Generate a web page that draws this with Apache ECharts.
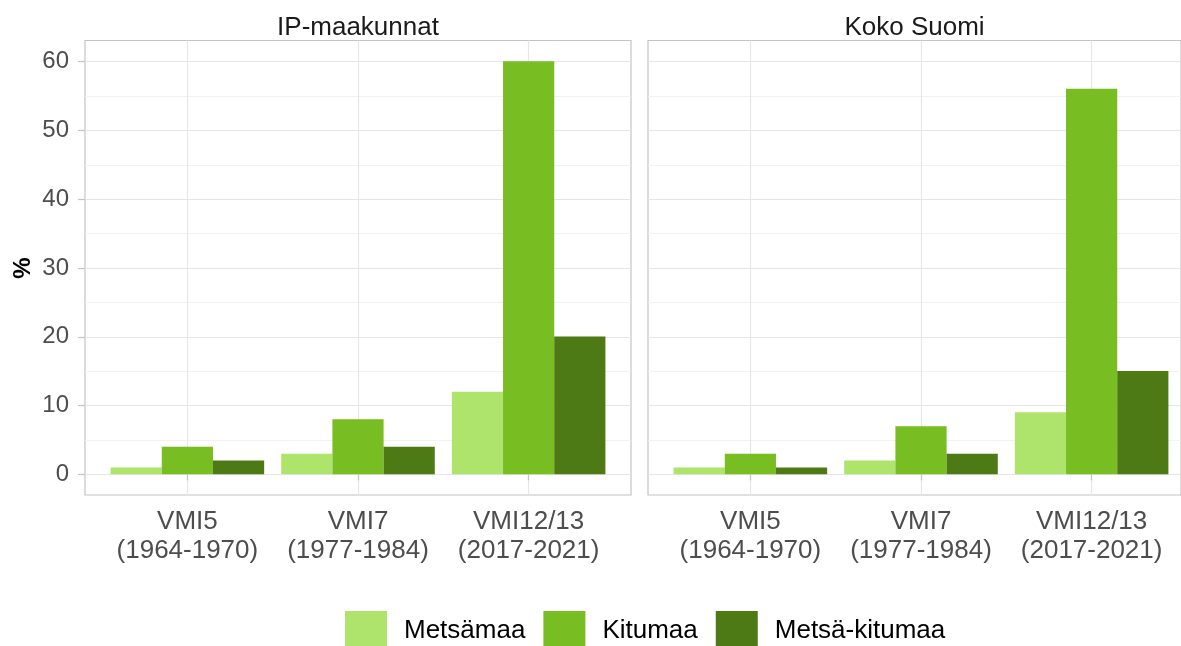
<!DOCTYPE html>
<html>
<head>
<meta charset="utf-8">
<script src="https://cdn.jsdelivr.net/npm/echarts@6/dist/echarts.min.js"></script>
<style>
  html, body { margin: 0; padding: 0; background: #fff; }
  #chartmain { width: 1181px; height: 646px; }
</style>
</head>
<body>
<div id="chartmain"></div>
<script>
// data
var categories = ['VMI5\n(1964-1970)', 'VMI7\n(1977-1984)', 'VMI12/13\n(2017-2021)'];
var panelNames = ['IP-maakunnat', 'Koko Suomi'];
var seriesNames = ['Metsämaa', 'Kitumaa', 'Metsä-kitumaa'];
var seriesColors = ['#aee46c', '#78bd21', '#4d7a15'];
var ipMetsamaa = [1, 3, 12];
var ipKitumaa = [4, 8, 60];
var ipMetsaKitumaa = [2, 4, 20];
var kokoMetsamaa = [1, 2, 9];
var kokoKitumaa = [3, 7, 56];
var kokoMetsaKitumaa = [1, 3, 15];
var yMin = 0, yMax = 60, yStep = 10;

var font = 'Liberation Sans, Arial, sans-serif';
var borderCol = '#c4c4c4';
var gridCol = '#e6e6e6';
var minorCol = '#f2f2f2';

// panel boxes (px) - right one runs off the canvas like the reference
var panels = [
  {left: 85, right: 550},
  {left: 648, right: -13}
];
var panelTop = 40.5, panelBottom = 151;      // border box
var lineTop = 61.6, lineBottom = 171.6;       // 60 .. 0
var unit = 546 / 3.2;                         // one category step

var grids = [], xAxes = [], yAxes = [], series = [];

panels.forEach(function (p, i) {
  var g = i * 3;
  // border
  grids.push({left: p.left, right: p.right, top: panelTop, bottom: panelBottom,
    show: true, borderColor: borderCol, borderWidth: 1.2, backgroundColor: 'transparent'});
  // horizontal lines + y labels
  grids.push({left: p.left, right: p.right, top: lineTop, bottom: lineBottom});
  // bars
  grids.push({left: p.left + unit * 0.1, right: p.right + unit * 0.1, top: panelTop, bottom: panelBottom});

  xAxes.push({gridIndex: g, type: 'value', min: 0, max: 1, position: 'top',
    name: panelNames[i], nameLocation: 'middle', nameGap: 0,
    nameTextStyle: {color: '#1a1a1a', fontSize: 26, fontFamily: font},
    axisLine: {show: false}, axisTick: {show: false}, axisLabel: {show: false}, splitLine: {show: false}});
  yAxes.push({gridIndex: g, type: 'value', min: 0, max: 1, show: false});

  xAxes.push({gridIndex: g + 1, type: 'value', min: 0, max: 1,
    axisLine: {show: false}, axisTick: {show: false}, axisLabel: {show: false}, splitLine: {show: false}});
  yAxes.push({gridIndex: g + 1, type: 'value', min: yMin, max: yMax, interval: yStep,
    name: i === 0 ? '%' : '', nameLocation: 'middle', nameGap: 50, nameRotate: 90,
    nameTextStyle: {color: '#000', fontSize: 24, fontWeight: 'bold', fontFamily: font},
    axisLine: {show: false},
    axisTick: {show: i === 0, length: 7, lineStyle: {color: borderCol, width: 1.2}},
    axisLabel: {show: i === 0, margin: 16, color: '#4d4d4d', fontSize: 24, fontFamily: font},
    minorTick: {show: false, splitNumber: 2},
    splitLine: {show: true, lineStyle: {color: gridCol, width: 1.2}},
    minorSplitLine: {show: true, lineStyle: {color: minorCol, width: 1}}});

  xAxes.push({gridIndex: g + 2, type: 'category', data: categories,
    axisLine: {show: false},
    axisTick: {show: true, alignWithLabel: true, length: 6, lineStyle: {color: borderCol, width: 1.2}},
    axisLabel: {interval: 0, margin: 12, color: '#4d4d4d', fontSize: 26, lineHeight: 29, fontFamily: font},
    splitLine: {show: false}});
  yAxes.push({gridIndex: g + 2, type: 'value', min: yMin - 3, max: yMax + 3, show: false});

  // vertical grid lines at the category centres
  series.push({type: 'line', name: 'vgrid' + i, xAxisIndex: g + 2, yAxisIndex: g + 2, data: [],
    silent: true, z: 1,
    markLine: {silent: true, z: 0, symbol: 'none', animation: false, label: {show: false},
      lineStyle: {color: gridCol, type: 'solid', width: 1.2},
      data: [{xAxis: 0}, {xAxis: 1}, {xAxis: 2}]}});
});

var panelData = [
  [ipMetsamaa, ipKitumaa, ipMetsaKitumaa],
  [kokoMetsamaa, kokoKitumaa, kokoMetsaKitumaa]
];
panelData.forEach(function (sets, i) {
  sets.forEach(function (vals, k) {
    series.push({type: 'bar', name: seriesNames[k], xAxisIndex: i * 3 + 2, yAxisIndex: i * 3 + 2,
      data: vals, barGap: '0%', barCategoryGap: '10%', z: 2,
      itemStyle: {color: seriesColors[k]}});
  });
});

var myChart = echarts.init(document.getElementById('chartmain'));
myChart.setOption({
  animation: false,
  color: seriesColors,
  legend: {
    data: seriesNames, top: 606, left: 340,
    icon: 'rect', itemWidth: 42, itemHeight: 39, itemGap: 18,
    textStyle: {color: '#000', fontSize: 26, fontFamily: font, padding: [0, 0, 0, 12]}
  },
  grid: grids,
  xAxis: xAxes,
  yAxis: yAxes,
  series: series
});
</script>
</body>
</html>
